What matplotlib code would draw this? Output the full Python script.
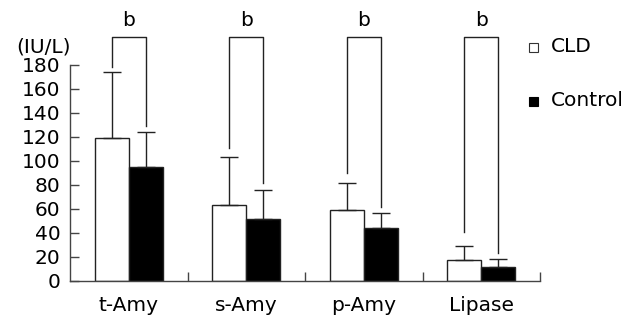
import matplotlib
matplotlib.use("Agg")
import matplotlib.pyplot as plt
import numpy as np
from matplotlib.patches import Rectangle

categories = ["t-Amy", "s-Amy", "p-Amy", "Lipase"]
cld_mean = [119, 63, 59, 17.5]
cld_sd = [55, 40, 23, 12]
ctrl_mean = [95, 52, 44, 12]
ctrl_sd = [29, 24, 12.5, 6.5]
bracket_top = 203
bracket_left_bottom = [178.6, 110.6, 90.2, 41.1]
bracket_right_bottom = [129.2, 81.4, 61.9, 23.1]
sig_labels = ["b", "b", "b", "b"]
yticks = [0, 20, 40, 60, 80, 100, 120, 140, 160, 180]
series_names = ["CLD", "Control"]

FS = 14.5
W, H = 634, 322
fig = plt.figure(figsize=(W / 100, H / 100), dpi=100)
ax = fig.add_axes([70 / W, 41 / H, 470 / W, 216 / H])

x = np.arange(len(categories))
bw = 0.29
off = 0.145
edge = "#222222"
lw = 1.0
ax.bar(x - off, cld_mean, bw, color="white", edgecolor=edge, linewidth=lw, zorder=2)
ax.bar(x + off, ctrl_mean, bw, color="black", edgecolor=edge, linewidth=lw, zorder=2)
ax.errorbar(x - off, cld_mean, yerr=[np.zeros(4), cld_sd], fmt="none",
            ecolor=edge, elinewidth=lw, capsize=6.2, capthick=lw, zorder=3)
ax.errorbar(x + off, ctrl_mean, yerr=[np.zeros(4), ctrl_sd], fmt="none",
            ecolor=edge, elinewidth=lw, capsize=6.2, capthick=lw, zorder=3)

for i in range(len(categories)):
    xl, xr = x[i] - off, x[i] + off
    ax.plot([xl, xl, xr, xr],
            [bracket_left_bottom[i], bracket_top, bracket_top, bracket_right_bottom[i]],
            color=edge, lw=lw, clip_on=False, zorder=3)
    ax.text(x[i], bracket_top + 6, sig_labels[i], ha="center", va="bottom",
            fontsize=FS, clip_on=False)

ax.set_xlim(-0.5, 3.5)
ax.set_ylim(0, 180)
ax.set_yticks(yticks)
ax.set_xticks(x)
ax.set_xticklabels(categories)
ax.set_xticks([0.5, 1.5, 2.5, 3.5], minor=True)
ax.tick_params(axis="x", which="major", length=0, pad=11, labelsize=FS)
ax.tick_params(axis="x", which="minor", direction="in", length=6.5, width=lw, color="#444444")
ax.tick_params(axis="y", direction="in", length=6.5, width=lw, color="#444444", pad=7, labelsize=FS)
for s in ["top", "right"]:
    ax.spines[s].set_visible(False)
for s in ["left", "bottom"]:
    ax.spines[s].set_color("#444444")
    ax.spines[s].set_linewidth(lw)

fig.text(44 / W, 1 - 47 / H, "(IU/L)", ha="center", va="center", fontsize=FS)

# legend
sq = 9
fig.add_artist(Rectangle((529 / W, 1 - 52 / H), sq / W, sq / H, transform=fig.transFigure,
                         facecolor="white", edgecolor="#333333", linewidth=0.8))
fig.add_artist(Rectangle((529 / W, 1 - 106 / H), sq / W, sq / H, transform=fig.transFigure,
                         facecolor="black", edgecolor="black", linewidth=0.8))
fig.text(551 / W, 1 - 47 / H, series_names[0], ha="left", va="center", fontsize=FS)
fig.text(551 / W, 1 - 101 / H, series_names[1], ha="left", va="center", fontsize=FS)

fig.savefig("out.png", dpi=100)
